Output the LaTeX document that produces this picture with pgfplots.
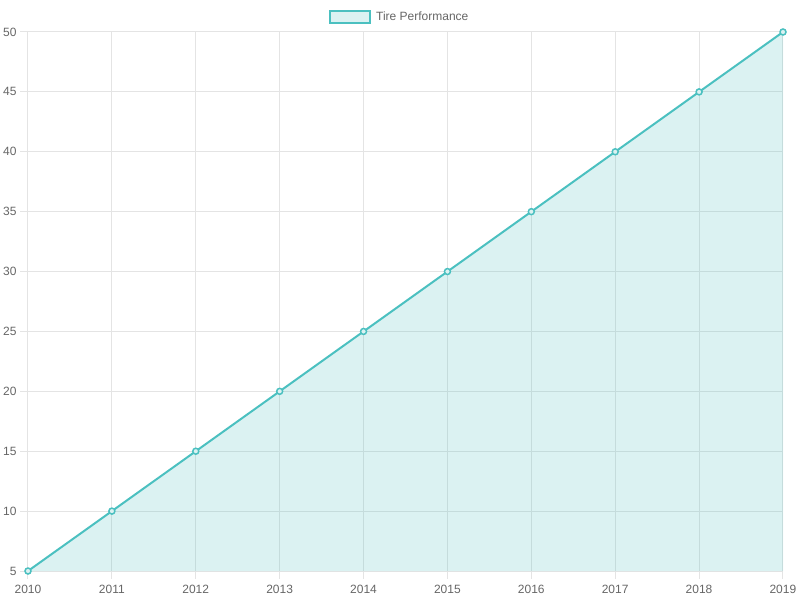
\documentclass[border=0pt]{standalone}
\usepackage{pgfplots}
\pgfplotsset{compat=1.18}
\usepackage{fontspec}
\setmainfont{Liberation Sans}
\definecolor{tealc}{RGB}{75,192,192}
\definecolor{tealfill}{RGB}{219,242,242}
\definecolor{gridc}{RGB}{228,228,228}
\definecolor{txt}{RGB}{102,102,102}

\begin{document}
\begin{tikzpicture}
\useasboundingbox (-28pt,-29pt) rectangle (772pt,571pt);
\begin{axis}[
    at={(0pt,0pt)}, anchor=south west,
    scale only axis, width=755pt, height=539pt,
    xmin=2010, xmax=2019, ymin=5, ymax=50,
    xtick={2010,...,2019}, ytick={5,10,...,50},
    axis lines*=left,
    grid=major,
    major grid style={gridc, line width=1pt},
    axis line style={gridc, line width=1pt},
    tick style={gridc, line width=1pt},
    tick align=outside, major tick length=8pt,
    /pgf/number format/assume math mode=true,
    /pgf/number format/1000 sep={},
    ticklabel style={font=\fontsize{12}{14}\selectfont, text=txt},
    x tick label style={yshift=-3pt},
    legend style={at={(axis description cs:0.4947,1)}, anchor=center,
        yshift=15pt, draw=none, fill=none,
        font=\fontsize{12}{14}\selectfont, text=txt,
        nodes={inner xsep=5.5pt}},
    legend image code/.code={
        \draw[tealc, line width=1.5pt, fill=tealfill] (0pt,-6pt) rectangle (40pt,6pt);},
]
\addplot[draw=none, fill=tealc, fill opacity=0.2, forget plot] coordinates {
    (2010,5) (2011,10) (2012,15) (2013,20) (2014,25)
    (2015,30) (2016,35) (2017,40) (2018,45) (2019,50)} \closedcycle;
\addplot[tealc, line width=2pt, mark=*, mark size=3pt,
    mark options={fill=tealfill, line width=1.5pt}] coordinates {
    (2010,5) (2011,10) (2012,15) (2013,20) (2014,25)
    (2015,30) (2016,35) (2017,40) (2018,45) (2019,50)};
\addlegendentry{Tire Performance}
\end{axis}
\end{tikzpicture}
\end{document}
